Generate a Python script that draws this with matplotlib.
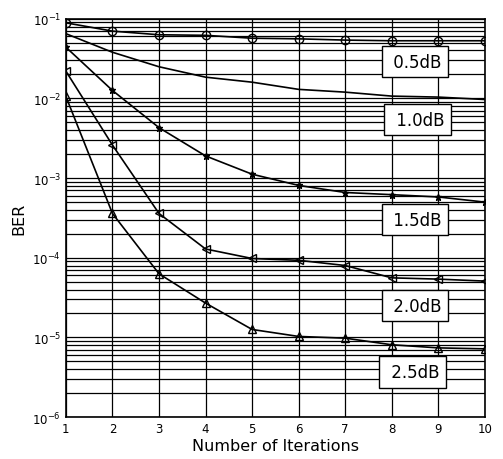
import matplotlib
matplotlib.use('Agg')
import matplotlib.pyplot as plt
import numpy as np

iters = [1, 2, 3, 4, 5, 6, 7, 8, 9, 10]
ber_05 = [0.089, 0.070, 0.063, 0.062, 0.057, 0.056, 0.054, 0.053, 0.053, 0.053]
ber_10 = [0.065, 0.038, 0.025, 0.0185, 0.016, 0.013, 0.012, 0.0107, 0.0104, 0.0097]
ber_15 = [0.044, 0.0126, 0.0043, 0.0019, 0.00112, 0.00081, 0.00066, 0.00062, 0.00058, 0.0005]
ber_20 = [0.022, 0.0026, 0.00036, 0.000129, 0.000098, 0.000093, 0.00008, 0.000056, 0.000054, 0.000051]
ber_25 = [0.0106, 0.00036, 0.000063, 0.000027, 0.0000126, 0.0000103, 0.0000098, 0.0000081, 0.0000074, 0.0000072]

labels = ['0.5dB', '1.0dB', '1.5dB', '2.0dB', '2.5dB']
label_x = [8.5, 8.55, 8.5, 8.5, 8.45]
label_y = [0.029, 0.0054, 0.0003, 0.000025, 0.0000037]

fig = plt.figure(figsize=(5.03, 4.6), dpi=100)
ax = fig.add_axes([0.131, 0.091, 0.833, 0.866])

ax.semilogy(iters, ber_05, 'k-', marker='o', mfc='none', ms=6, lw=1.2)
ax.semilogy(iters, ber_10, 'k-', lw=1.2)
ax.semilogy(iters, ber_15, 'k-', marker='*', ms=5, lw=1.2)
ax.semilogy(iters, ber_20, 'k-', marker='<', mfc='none', ms=6, lw=1.2)
ax.semilogy(iters, ber_25, 'k-', marker='^', mfc='none', ms=6, lw=1.2)

# boxed labels next to each curve
for t, xx, yy in zip(labels, label_x, label_y):
    ax.text(xx, yy, ' ' + t, ha='center', va='center', fontsize=12,
            bbox=dict(boxstyle='square,pad=0.4', fc='white', ec='black', lw=1))

ax.set_xlim(1, 10)
ax.set_ylim(1e-6, 1e-1)
ax.set_xticks(iters)
ax.grid(True, which='major', color='black', lw=0.9)
ax.grid(True, which='minor', axis='y', color='black', lw=0.9)
ax.tick_params(which='both', length=0, labelsize=8.5)
for s in ax.spines.values():
    s.set_linewidth(1.2)

ax.set_xlabel('Number of Iterations', fontsize=11.5, labelpad=2)
ax.set_ylabel('BER', fontsize=11.5)

fig.savefig('out.png', dpi=100)
